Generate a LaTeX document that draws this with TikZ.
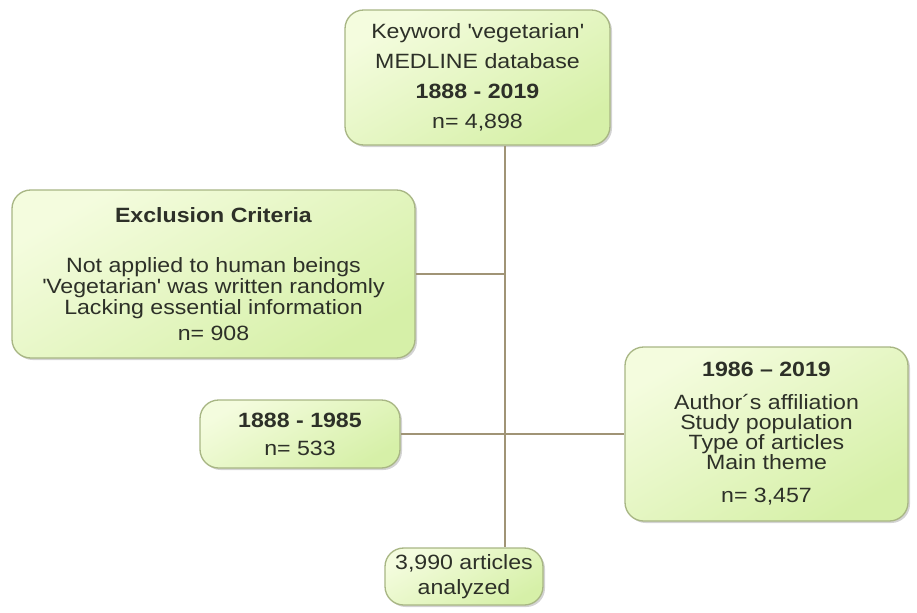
\documentclass[tikz,border=0pt]{standalone}
\usepackage{fontspec}
\setmainfont{Liberation Sans}[FakeStretch=1.12]
\usepackage{xcolor}
\usepackage{tikz}
\usetikzlibrary{positioning, shadows}
\definecolor{boxlight}{RGB}{244,252,222}
\definecolor{boxdark}{RGB}{214,240,168}
\definecolor{boxedge}{RGB}{168,182,132}
\definecolor{linkline}{RGB}{160,148,118}
\definecolor{boxtext}{RGB}{45,48,40}

\begin{document}
\begin{tikzpicture}[
  x=0.75pt, y=-0.75pt,
  every node/.style={font=\fontsize{15.5}{20}\selectfont, text=boxtext},
  flowbox/.style={
    draw=boxedge, rounded corners=14pt, line width=1pt,
    top color=boxlight, bottom color=boxdark, shading angle=30,
    drop shadow={shadow xshift=1.5pt, shadow yshift=-1.5pt, opacity=0.35},
    align=center, inner sep=0pt
  },
  link/.style={draw=linkline, line width=0.9pt},
]
\useasboundingbox (0,0) rectangle (917,612);

% Boxes
\node[flowbox, minimum width=265*0.75pt, minimum height=135*0.75pt] (search) at (477.5,77.5) {%
  Keyword \textquotesingle vegetarian\textquotesingle\\[2.5pt]
  MEDLINE database\\[2.5pt]
  \textbf{1888 - 2019}\\[2.5pt]
  n= 4,898};
\node[flowbox, minimum width=403*0.75pt, minimum height=168*0.75pt] (excl) at (213.5,274) {%
  \textbf{Exclusion Criteria}\\[17.5pt]
  Not applied to human beings\\[-4.25pt]
  \textquotesingle Vegetarian\textquotesingle\ was written randomly\\[-4.25pt]
  Lacking essential information\\[-0.5pt]
  n= 908};
\node[flowbox, minimum width=200*0.75pt, minimum height=68*0.75pt] (early) at (300,434) {%
  \textbf{1888 - 1985}\\[1pt]
  n= 533};
\node[flowbox, minimum width=283*0.75pt, minimum height=174*0.75pt] (late) at (766.5,434) {%
  \textbf{1986 – 2019}\\[4.75pt]
  Author´s affiliation\\[-5pt]
  Study population\\[-5pt]
  Type of articles\\[-5pt]
  Main theme\\[4.75pt]
  n= 3,457};
\node[flowbox, minimum width=158*0.75pt, minimum height=57*0.75pt] (final) at (464,576.5) {%
  3,990 articles\\[-1.25pt]
  analyzed};

% Connectors
\coordinate (trunk) at (505,0);
\draw[link] (search.south -| trunk) -- (final.north -| trunk);
\draw[link] (excl.east) -- (excl.east -| trunk);
\draw[link] (early.east) -- (early.east -| late.west);

\end{tikzpicture}
\end{document}
